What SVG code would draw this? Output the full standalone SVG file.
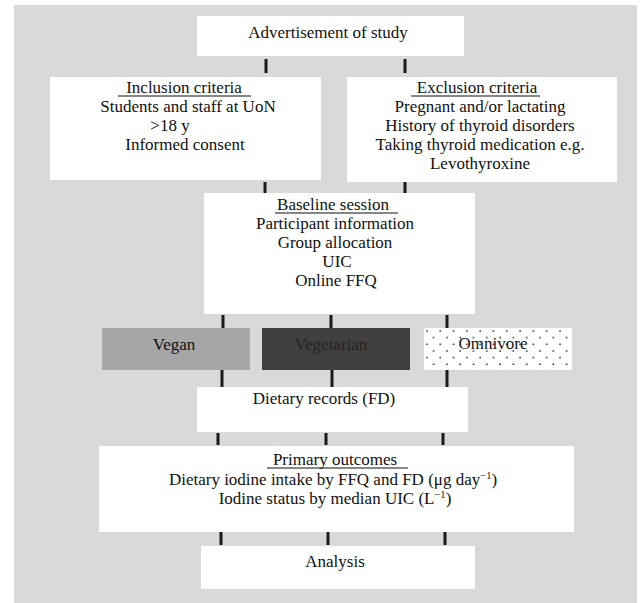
<svg xmlns="http://www.w3.org/2000/svg" width="640" height="603" viewBox="0 0 640 603">
<defs>
<style>
.box{fill:#ffffff}
.t{font-family:"Liberation Serif","Times New Roman",serif;font-size:17px;fill:#111;text-anchor:middle}
.ul{stroke:#111;stroke-width:1.2}
.c{stroke:#1a1a1a;stroke-width:3;fill:none}
</style>
<pattern id="dots" patternUnits="userSpaceOnUse" x="424" y="328" width="13.3" height="13.3">
<rect width="13.3" height="13.3" fill="#ffffff"/>
<circle cx="3" cy="3" r="0.9" fill="#333"/>
<circle cx="9.65" cy="9.65" r="0.9" fill="#333"/>
</pattern>
</defs>
<rect x="0" y="0" width="640" height="603" fill="#ffffff"/>
<rect x="14" y="5" width="623" height="598" fill="#d9d9d9"/>

<g id="connectors">
<line class="c" x1="266" y1="59" x2="266" y2="73"/>
<line class="c" x1="405" y1="59" x2="405" y2="73"/>
<line class="c" x1="265" y1="182" x2="265" y2="193"/>
<line class="c" x1="405" y1="182" x2="405" y2="193"/>
<line class="c" x1="223" y1="315" x2="223" y2="328"/>
<line class="c" x1="331" y1="315" x2="331" y2="328"/>
<line class="c" x1="447" y1="315" x2="447" y2="328"/>
<line class="c" x1="222" y1="370" x2="222" y2="387"/>
<line class="c" x1="332" y1="370" x2="332" y2="387"/>
<line class="c" x1="447" y1="370" x2="447" y2="387"/>
<line class="c" x1="218" y1="433" x2="218" y2="445"/>
<line class="c" x1="326" y1="433" x2="326" y2="445"/>
<line class="c" x1="443" y1="433" x2="443" y2="445"/>
<line class="c" x1="221" y1="532" x2="221" y2="545"/>
<line class="c" x1="328" y1="532" x2="328" y2="545"/>
<line class="c" x1="445" y1="532" x2="445" y2="545"/>
</g>

<g id="advertisement">
<rect class="box" x="197" y="16" width="267" height="40"/>
<text class="t" x="328" y="38">Advertisement of study</text>
</g>

<g id="inclusion">
<rect class="box" x="50" y="77" width="271" height="103"/>
<text class="t" x="184" y="93">Inclusion criteria</text>
<line class="ul" x1="118" y1="96" x2="251" y2="96"/>
<text class="t" x="188" y="112">Students and staff at UoN</text>
<text class="t" x="170" y="131">&gt;18 y</text>
<text class="t" x="185" y="150">Informed consent</text>
</g>

<g id="exclusion">
<rect class="box" x="347" y="77" width="270" height="105"/>
<text class="t" x="477" y="93">Exclusion criteria</text>
<line class="ul" x1="411" y1="96" x2="540" y2="96"/>
<text class="t" x="480" y="112">Pregnant and/or lactating</text>
<text class="t" x="480" y="131">History of thyroid disorders</text>
<text class="t" x="480" y="150">Taking thyroid medication e.g.</text>
<text class="t" x="480" y="169">Levothyroxine</text>
</g>

<g id="baseline">
<rect class="box" x="204" y="193" width="271" height="121"/>
<text class="t" x="333" y="210">Baseline session</text>
<line class="ul" x1="275" y1="213" x2="398" y2="213"/>
<text class="t" x="335" y="229">Participant information</text>
<text class="t" x="335" y="248">Group allocation</text>
<text class="t" x="337" y="267">UIC</text>
<text class="t" x="336" y="286">Online FFQ</text>
</g>

<g id="vegan">
<rect x="102" y="328" width="148" height="42" fill="#a6a6a6"/>
<text class="t" x="174" y="350">Vegan</text>
</g>

<g id="vegetarian">
<rect x="262" y="328" width="148" height="42" fill="#404040"/>
<text class="t" x="331" y="350" style="fill:#222">Vegetarian</text>
</g>

<g id="omnivore">
<rect x="424" y="328" width="148" height="42" fill="url(#dots)"/>
<text class="t" x="493" y="349">Omnivore</text>
</g>

<g id="dietary">
<rect class="box" x="197" y="387" width="271" height="45"/>
<text class="t" x="324" y="404">Dietary records (FD)</text>
</g>

<g id="primary">
<rect class="box" x="99" y="446" width="475" height="86"/>
<text class="t" x="335" y="465">Primary outcomes</text>
<line class="ul" x1="267" y1="468" x2="408" y2="468"/>
<text class="t" x="333" y="485">Dietary iodine intake by FFQ and FD (μg day<tspan font-size="10.5" dy="-6">−1</tspan><tspan dy="6">)</tspan></text>
<text class="t" x="335" y="504">Iodine status by median UIC (L<tspan font-size="10.5" dy="-6">−1</tspan><tspan dy="6">)</tspan></text>
</g>

<g id="analysis">
<rect class="box" x="201" y="546" width="274" height="43"/>
<text class="t" x="335" y="567">Analysis</text>
</g>
</svg>
